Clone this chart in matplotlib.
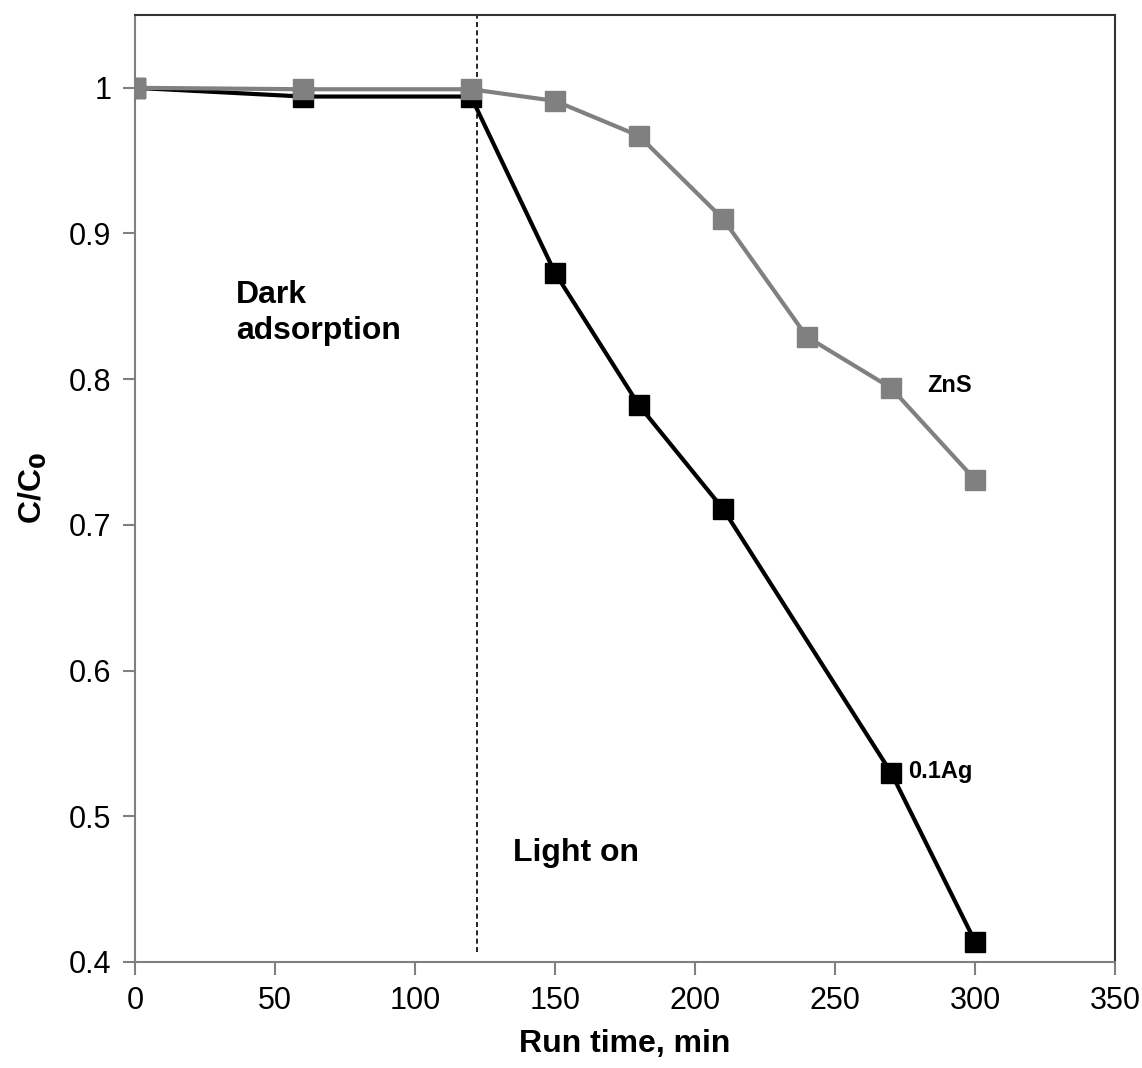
import matplotlib.pyplot as plt

plt.rcParams["font.family"] = ["Liberation Sans", "DejaVu Sans"]

time_zns = [0, 60, 120, 150, 180, 210, 240, 270, 300]
cc0_zns = [1.0, 0.999, 0.999, 0.991, 0.967, 0.910, 0.829, 0.794, 0.731]

time_ag = [0, 60, 120, 150, 180, 210, 270, 300]
cc0_ag = [1.0, 0.994, 0.994, 0.873, 0.782, 0.711, 0.530, 0.414]

light_on_time = 122

fig = plt.figure(figsize=(11.42, 10.68), dpi=100)
ax = fig.add_axes([0.1182, 0.0993, 0.8582, 0.8867])

ax.plot(time_ag, cc0_ag, color="black", lw=3, marker="s", ms=14, zorder=3)
ax.plot(time_zns, cc0_zns, color="#808080", lw=3, marker="s", ms=14, zorder=4)
ax.axvline(light_on_time, ymin=0.011, color="black", lw=1.2, ls=(0, (3, 2)), zorder=2)

ax.set_xlim(0, 350)
ax.set_ylim(0.4, 1.05)
ax.set_xticks(range(0, 351, 50))
ax.set_yticks([0.4, 0.5, 0.6, 0.7, 0.8, 0.9, 1.0])
ax.set_yticklabels(["0.4", "0.5", "0.6", "0.7", "0.8", "0.9", "1"])
ax.tick_params(direction="out", length=9, width=1.5, color="#808080",
               labelsize=22, pad=8)

for side in ["left", "bottom"]:
    ax.spines[side].set_color("#808080")
    ax.spines[side].set_linewidth(1.5)
for side in ["top", "right"]:
    ax.spines[side].set_color("#333333")
    ax.spines[side].set_linewidth(1.5)

ax.set_xlabel("Run time, min", fontsize=23, fontweight="bold", labelpad=10)
ax.set_ylabel(r"C/C$_\mathbf{0}$", fontsize=23, fontweight="bold", labelpad=14)

ax.text(36, 0.868, "Dark\nadsorption", fontsize=23, fontweight="bold",
        va="top", ha="left", linespacing=1.25)
ax.text(135, 0.475, "Light on", fontsize=23, fontweight="bold", va="center")
ax.text(283, 0.796, "ZnS", fontsize=17, fontweight="bold", va="center")
ax.text(276, 0.531, "0.1Ag", fontsize=17, fontweight="bold", va="center")

fig.savefig("out.png", dpi=100)
